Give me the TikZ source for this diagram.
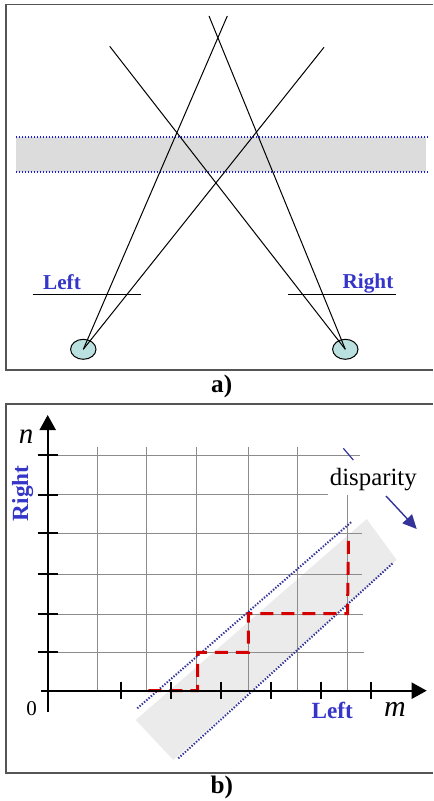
\documentclass[tikz,border=0pt]{standalone}
\usepackage{fontspec}
\setmainfont{Liberation Serif}
\usetikzlibrary{arrows.meta,positioning,shapes.geometric}
\definecolor{azulrot}{HTML}{3535C8}
\definecolor{azulvivo}{HTML}{1A1AE6}
\definecolor{azulesc}{HTML}{333399}
\definecolor{cinzafaixa}{HTML}{DCDCDC}
\definecolor{cinzaclaro}{HTML}{EBEBEB}
\definecolor{cinzamold}{HTML}{555555}
\definecolor{cinzagrade}{HTML}{8C8C8C}
\definecolor{ciano}{HTML}{BAE0DF}
\definecolor{vermelho}{HTML}{D40000}

\begin{document}
\begin{tikzpicture}[x=0.5pt,y=-0.5pt,
  moldura/.style={draw=cinzamold, line width=0.8pt},
  olho/.style={ellipse, draw=black, fill=ciano, line width=0.5pt,
               minimum width=12.7pt, minimum height=10pt, inner sep=0pt},
  raio/.style={draw=black, line width=0.5pt},
  retina/.style={draw=black, line width=0.6pt},
  pontilhado/.style={line width=1pt, dash pattern=on 0.7pt off 0.8pt},
  rotulo/.style={font=\fontsize{10.6}{12}\selectfont\bfseries, text=azulrot},
  rotulob/.style={font=\fontsize{11.6}{13}\selectfont\bfseries, text=azulrot},
  legenda/.style={font=\fontsize{12.6}{14}\selectfont\bfseries},
  grade/.style={draw=cinzagrade, line width=0.5pt},
  eixo/.style={draw=black, line width=1pt},
  escada/.style={draw=vermelho, line width=1.5pt, dash pattern=on 6.5pt off 4pt},
  seta/.style={-{Triangle[length=7pt,width=6.5pt]}, azulesc, line width=0.7pt}
]
\useasboundingbox (0,0) rectangle (433,801);

% ---- a) ----
\draw[moldura] (433,4.7) -- (5.7,4.7) -- (5.7,370) -- (433,370);
\fill[cinzafaixa] (16,137.3) rectangle (426,171.7);
\draw[pontilhado, azulvivo] (16,137.3) -- (428,137.3);
\draw[pontilhado, azulvivo] (16,171.7) -- (428,171.7);

\node[olho] (olhoE) at (83.3,349.3) {};
\node[olho] (olhoD) at (345.3,349.3) {};
\coordinate (r1) at (109.7,46.3);
\coordinate (r2) at (209,16);
\coordinate (r3) at (227.3,16);
\coordinate (r4) at (324,47.3);
\draw[raio] (r1) -- (olhoD.center);
\draw[raio] (r2) -- (olhoD.center);
\draw[raio] (r3) -- (olhoE.center);
\draw[raio] (r4) -- (olhoE.center);

\draw[retina] (32.7,294.3) -- (140.7,294.3);
\draw[retina] (288.3,294.3) -- (396,294.3);
\node[rotulo] (esq) at (62,282) {Left};
\node[rotulo] (dir) at (368,283) {Right};
\node[legenda] (la) at (221.7,386) {a)};

% ---- b) ----
\draw[moldura] (433,404) -- (5.7,404) -- (5.7,772.7) -- (433,772.7);
\fill[cinzaclaro] (135.7,720) -- (173.3,760) -- (396.7,560) -- (366.7,519) -- cycle;

\foreach \x in {97.3,146.7,196.7,248.3,297.3}
  \draw[grade] (\x,447) -- (\x,690.7);
\draw[grade] (347.7,495) -- (347.7,690.7);
\foreach \y/\xf in {455.3/360,494.7/328,533/361.7,574/362,614/363,652.3/364}
  \draw[grade] (47.7,\y) -- (\xf,\y);
\draw[azulesc, line width=0.6pt] (343.3,448.3) -- (353.3,460);

\draw[pontilhado, azulesc] (137.3,708.3) -- (351.7,521.7);
\draw[pontilhado, azulesc] (178.3,758.3) -- (393.3,562.7);

\draw[escada] (148.3,690.7) -- (197.5,690.7) -- (197.5,652.3) -- (248.3,652.3)
  -- (248.3,613.7) -- (347.5,613.7) -- (348.5,533.5);

\coordinate (origem) at (47.7,690.7);
\draw[eixo, -{Triangle[length=7.5pt,width=8pt]}] (47.7,711.7) -- (47.7,415);
\draw[eixo, -{Triangle[length=7.5pt,width=8pt]}] (41,690.7) -- (426.7,690.7);
\foreach \y in {455.3,494.7,533,574,614,652.3}
  \draw[eixo] (37.7,\y) -- (57.7,\y);
\foreach \x in {120.7,170.7,220.7,270.7,320.7,371}
  \draw[eixo] (\x,682.3) -- (\x,699);

\node[font=\fontsize{14.5}{16}\selectfont\itshape] (en) at (26,436.7) {n};
\node[font=\fontsize{15}{17}\selectfont\itshape] (em) at (395,709) {m};
\node[font=\fontsize{10.5}{12}\selectfont, anchor=east] (zero) at (44,708.3) {0};
\node[rotulob, rotate=90] (dirb) at (22.7,493.3) {Right};
\node[rotulob] (esqb) at (332.3,710) {Left};

\node[font=\fontsize{12.4}{14}\selectfont] (disp) at (373.3,480) {disparity};
\coordinate (dispini) at (386,496);
\coordinate (dispfim) at (416.7,529);
\draw[seta] (dispini) -- (dispfim);

\node[legenda] (lb) at (221.7,787) {b)};
\end{tikzpicture}
\end{document}
